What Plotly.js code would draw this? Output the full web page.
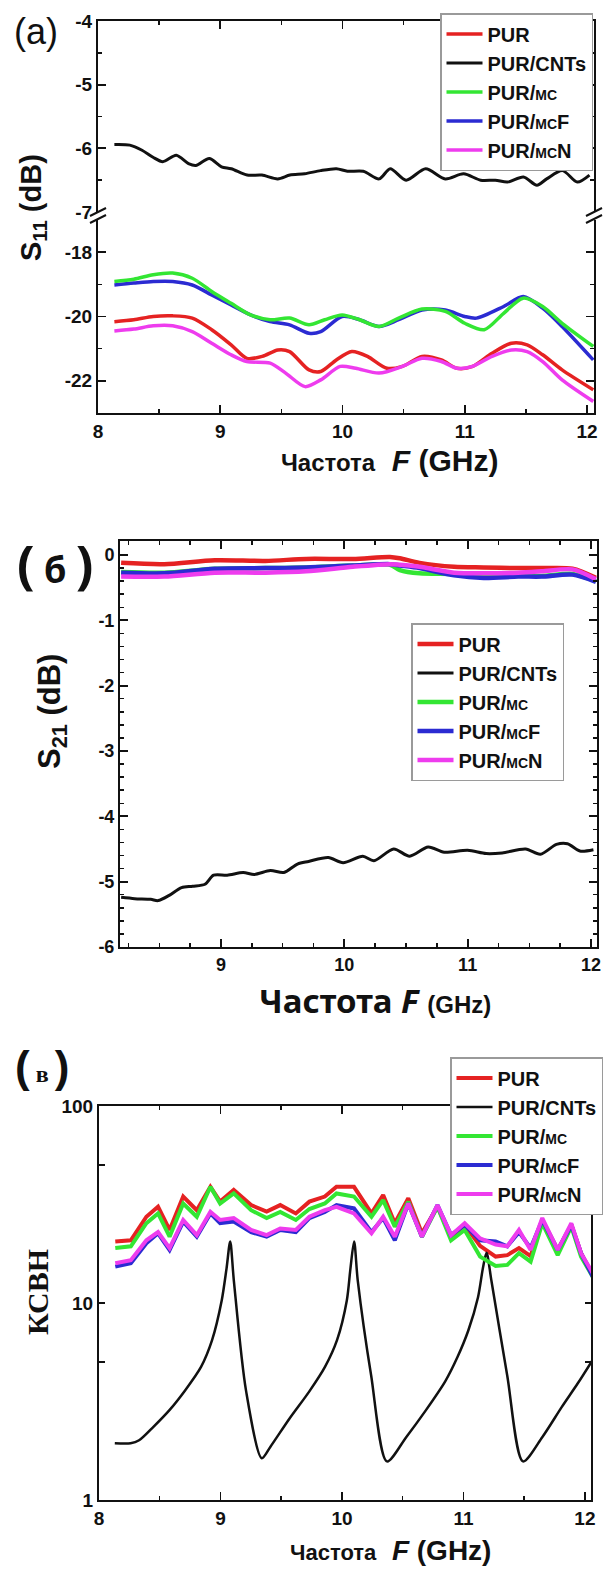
<!DOCTYPE html>
<html><head><meta charset="utf-8">
<script src="https://cdn.plot.ly/plotly-3.0.1.min.js"></script>
<style>html,body{margin:0;padding:0;background:#fff}#chart{width:605px;height:1572px}</style>
</head><body><div id="chart"></div>
<script>
// ---------- series names & colours ----------
const seriesNames = ['PUR', 'PUR/CNTs', 'PUR/<span style="font-size:14px">MC</span>', 'PUR/<span style="font-size:14px">MC</span>F', 'PUR/<span style="font-size:14px">MC</span>N'];
const seriesColors = ['#e52222', '#111111', '#33e633', '#2b2bd2', '#ee3cee'];

// ---------- panel (a): S11 ----------
const a_cnt_x = [8.134,8.26,8.36,8.45,8.53,8.64,8.74,8.80,8.91,9.01,9.09,9.22,9.34,9.47,9.57,9.69,9.82,9.95,10.04,10.17,10.30,10.39,10.52,10.68,10.84,10.99,11.13,11.25,11.35,11.48,11.59,11.67,11.80,11.92,12.02];
const a_cnt_y = [-5.94,-5.95,-6.03,-6.14,-6.21,-6.11,-6.24,-6.27,-6.16,-6.29,-6.32,-6.42,-6.42,-6.48,-6.42,-6.40,-6.35,-6.32,-6.36,-6.36,-6.48,-6.32,-6.50,-6.32,-6.48,-6.40,-6.50,-6.50,-6.53,-6.45,-6.58,-6.48,-6.35,-6.53,-6.42];
const a_mc_x  = [8.134,8.293,8.452,8.611,8.771,8.930,9.089,9.248,9.408,9.567,9.726,9.854,9.997,10.140,10.299,10.459,10.650,10.841,11.0,11.159,11.318,11.478,11.637,11.796,12.051];
const a_mc_y  = [-18.91,-18.84,-18.70,-18.65,-18.81,-19.22,-19.59,-19.95,-20.10,-20.05,-20.26,-20.10,-19.95,-20.10,-20.31,-20.05,-19.77,-19.84,-20.21,-20.41,-19.90,-19.43,-19.69,-20.21,-20.93];
const a_mcf_x = [8.134,8.293,8.452,8.611,8.771,8.930,9.089,9.248,9.408,9.567,9.726,9.822,9.997,10.140,10.299,10.459,10.650,10.841,11.0,11.096,11.318,11.478,11.637,11.796,12.051];
const a_mcf_y = [-19.02,-18.96,-18.91,-18.91,-19.02,-19.33,-19.64,-19.95,-20.16,-20.26,-20.52,-20.47,-20.00,-20.10,-20.31,-20.10,-19.80,-19.80,-20.00,-20.05,-19.69,-19.38,-19.74,-20.31,-21.35];
const a_pur_x = [8.134,8.293,8.452,8.611,8.771,8.930,9.089,9.217,9.344,9.471,9.567,9.726,9.822,9.949,10.076,10.204,10.363,10.490,10.650,10.809,10.936,11.064,11.223,11.382,11.510,11.637,11.796,12.051];
const a_pur_y = [-20.16,-20.10,-20.00,-19.98,-20.05,-20.41,-20.88,-21.30,-21.24,-21.04,-21.09,-21.66,-21.71,-21.35,-21.09,-21.24,-21.61,-21.55,-21.24,-21.35,-21.61,-21.55,-21.14,-20.83,-20.88,-21.19,-21.66,-22.28];
const a_mcn_x = [8.134,8.293,8.452,8.611,8.771,8.930,9.089,9.217,9.408,9.535,9.694,9.822,9.981,10.108,10.299,10.490,10.650,10.809,10.936,11.064,11.223,11.382,11.510,11.637,11.796,12.051];
const a_mcn_y = [-20.45,-20.39,-20.29,-20.29,-20.47,-20.83,-21.19,-21.40,-21.45,-21.76,-22.18,-21.97,-21.55,-21.61,-21.76,-21.55,-21.30,-21.40,-21.61,-21.55,-21.24,-21.04,-21.09,-21.40,-21.97,-22.64];
const a_xticks = [8, 9, 10, 11, 12];
const a_upper_ticks = [-4, -5, -6, -7];
const a_upper_labels = ['-4', '-5', '-6', '-7'];
const a_lower_ticks = [-18, -20, -22];
const a_lower_labels = ['-18', '-20', '-22'];

// ---------- panel (б): S21 ----------
const b_x     = [8.19,8.54,8.95,9.36,9.69,10.07,10.37,10.45,10.61,10.89,11.13,11.41,11.6,11.85,12.04];
const b_pur   = [-0.12,-0.14,-0.08,-0.09,-0.06,-0.06,-0.03,-0.05,-0.12,-0.18,-0.19,-0.20,-0.20,-0.21,-0.35];
const b_mc    = [-0.26,-0.27,-0.21,-0.20,-0.19,-0.16,-0.15,-0.23,-0.28,-0.29,-0.32,-0.31,-0.32,-0.29,-0.40];
const b_mcf   = [-0.27,-0.28,-0.21,-0.20,-0.19,-0.16,-0.14,-0.16,-0.20,-0.31,-0.35,-0.33,-0.33,-0.30,-0.41];
const b_mcn   = [-0.33,-0.33,-0.27,-0.27,-0.25,-0.18,-0.14,-0.15,-0.18,-0.27,-0.28,-0.27,-0.25,-0.22,-0.37];
const b_cnt_x = [8.19,8.30,8.43,8.49,8.58,8.68,8.77,8.87,8.94,9.05,9.18,9.27,9.40,9.51,9.62,9.71,9.87,9.99,10.15,10.24,10.40,10.53,10.68,10.81,11.00,11.15,11.28,11.47,11.59,11.72,11.81,11.91,12.02];
const b_cnt_y = [-5.24,-5.26,-5.27,-5.29,-5.21,-5.09,-5.07,-5.04,-4.90,-4.90,-4.86,-4.89,-4.83,-4.86,-4.73,-4.69,-4.63,-4.71,-4.61,-4.68,-4.50,-4.61,-4.47,-4.55,-4.52,-4.57,-4.56,-4.50,-4.58,-4.43,-4.42,-4.53,-4.51];
const b_xticks = [9, 10, 11, 12];
const b_yticks = [0, -1, -2, -3, -4, -5, -6];
const b_ylabels = ['0', '-1', '-2', '-3', '-4', '-5', '-6'];

// ---------- panel (в): VSWR (КСВН) ----------
const c_x   = [8.134,8.262,8.390,8.486,8.581,8.693,8.805,8.917,8.997,9.109,9.252,9.380,9.492,9.620,9.732,9.859,9.955,10.099,10.243,10.339,10.435,10.546,10.658,10.786,10.898,11.010,11.137,11.265,11.361,11.457,11.553,11.649,11.776,11.888,11.968,12.064];
const c_pur = [20.5,20.8,27.4,30.8,23.5,34.7,29.6,38.9,32.7,37.5,31.4,29.1,31.4,28.5,32.7,34.7,38.9,38.9,28.5,35.3,25.4,34,22.6,30.8,21.7,24.9,19.5,17.2,17.5,19,17.3,26.4,18.6,24.9,17.9,13.9];
const c_mc  = [19,19.4,25.4,28.5,21.7,32,27.4,38.9,32,36,29.6,27,29,26.4,30,32,36,34.7,27.4,33.3,24.4,32.7,21.7,30.8,20.8,23.5,17.2,15.4,15.6,17.9,16.2,25.4,17.5,24.4,17.2,13.6];
const c_mcf = [15.3,15.9,20.1,22.6,18.6,25.9,21.7,28.5,25.4,25.9,22.9,21.7,23.5,22.9,27,29,31.4,30.2,22.9,27,20.8,32,21.7,31.4,22.1,24.9,20.8,20.5,19.4,22.9,19,26.4,18.6,24.9,17.9,13.6];
const c_mcn = [15.9,16.5,20.8,22.9,19,26.4,22.1,29,26.4,27,23.5,22.1,23.9,23.5,27.4,29.6,30.8,28.5,22.6,27.4,21.7,32,21.7,31.4,22.1,25.4,21.3,19.8,19.4,23.5,18.6,27,18.6,25.4,17.9,14.2];
const c_cnt_x = [8.13,8.26,8.33,8.45,8.58,8.71,8.84,8.93,9.01,9.05,9.08,9.11,9.21,9.34,9.41,9.57,9.73,9.86,9.96,10.04,10.07,10.10,10.13,10.24,10.37,10.53,10.69,10.85,10.95,11.04,11.12,11.16,11.19,11.23,11.36,11.49,11.65,11.81,11.94,12.06];
const c_cnt_y = [1.94,1.94,2.01,2.36,2.86,3.61,4.74,6.46,10.3,15,20.5,13,3.6,1.63,1.86,2.6,3.55,4.74,6.5,10.3,15,20.5,13,4.3,1.57,2.09,2.85,4.0,5.3,7.25,10.7,15,18,13,4.3,1.57,2.09,2.97,3.9,5.1];
const c_xticks = [8, 9, 10, 11, 12];
const c_yticks = [1, 10, 100];
const c_ylabels = ['1', '10', '100'];
const c_yminor = [5, 50];

// ---------- helpers ----------
const W = 605, H = 1572;
const px = v => v / W;
const py = v => 1 - v / H;
const FONT = 'Liberation Sans, Arial, sans-serif';

function line(x, y, idx, xa, ya, legend, width, shape) {
  return {
    type: 'scatter', mode: 'lines', x: x, y: y, name: seriesNames[idx],
    xaxis: xa, yaxis: ya, legend: legend,
    line: {color: seriesColors[idx], width: width, shape: shape || 'spline', smoothing: 0.8},
    hoverinfo: 'skip'
  };
}

const traces = [
  // panel (a)
  line(a_pur_x, a_pur_y, 0, 'x', 'y2', 'legend', 3.5),
  line(a_cnt_x, a_cnt_y, 1, 'x2', 'y', 'legend', 3),
  line(a_mcf_x, a_mcf_y, 3, 'x', 'y2', 'legend', 3.5),
  line(a_mc_x, a_mc_y, 2, 'x', 'y2', 'legend', 3.5),
  line(a_mcn_x, a_mcn_y, 4, 'x', 'y2', 'legend', 3.5),
  // panel (б)
  line(b_x, b_pur, 0, 'x3', 'y3', 'legend2', 4.5),
  line(b_cnt_x, b_cnt_y, 1, 'x3', 'y3', 'legend2', 3),
  line(b_x, b_mc, 2, 'x3', 'y3', 'legend2', 4.5),
  line(b_x, b_mcf, 3, 'x3', 'y3', 'legend2', 4.5),
  line(b_x, b_mcn, 4, 'x3', 'y3', 'legend2', 4.5),
  // panel (в)
  line(c_x, c_pur, 0, 'x4', 'y4', 'legend3', 4, 'linear'),
  line(c_cnt_x, c_cnt_y, 1, 'x4', 'y4', 'legend3', 2.5, 'spline'),
  line(c_x, c_mc, 2, 'x4', 'y4', 'legend3', 4, 'linear'),
  line(c_x, c_mcf, 3, 'x4', 'y4', 'legend3', 4, 'linear'),
  line(c_x, c_mcn, 4, 'x4', 'y4', 'legend3', 4, 'linear')
];
traces.forEach(t => { t.legendrank = seriesNames.indexOf(t.name) + 1; });

const tickfont = {family: FONT, size: 19, color: '#111', weight: 'bold'};
const minorTick = (dtick, tick0) => ({dtick: dtick, tick0: tick0, ticklen: 4, ticks: 'inside', tickcolor: '#111', tickwidth: 1.5});
function ax(extra) {
  return Object.assign({
    showline: true, linecolor: '#111', linewidth: 2, ticks: 'inside', ticklen: 8, tickwidth: 1.8,
    tickcolor: '#111', showgrid: false, zeroline: false, tickfont: tickfont, fixedrange: true
  }, extra);
}
function legendBox(x, y) {
  return {x: x, y: y, xanchor: 'left', yanchor: 'top', bgcolor: '#ffffff', bordercolor: '#9a9a9a', borderwidth: 1.5,
    font: {family: FONT, size: 20, color: '#111', weight: 'bold'}, itemwidth: 36, tracegroupgap: 0,
    traceorder: 'normal'};
}

const layout = {
  width: W, height: H, margin: {l: 0, r: 0, t: 0, b: 0}, paper_bgcolor: '#fff', plot_bgcolor: 'rgba(0,0,0,0)',
  showlegend: true,
  // panel (a)
  xaxis: ax({domain: [px(98), px(594)], range: [8, 12.057], anchor: 'y2', tickvals: a_xticks, ticktext: a_xticks.map(String),
    minor: minorTick(0.5, 8)}),
  xaxis2: ax({domain: [px(98), px(594)], range: [8, 12.057], anchor: 'y', side: 'top', showticklabels: false, tickvals: a_xticks,
    minor: minorTick(0.5, 8)}),
  yaxis: ax({domain: [py(212), py(21)], range: [-7, -4], anchor: 'x2', mirror: 'ticks', tickvals: a_upper_ticks, ticktext: a_upper_labels,
    minor: minorTick(0.5, -7)}),
  yaxis2: ax({domain: [py(413), py(220)], range: [-23, -17], anchor: 'x', mirror: 'ticks', tickvals: a_lower_ticks, ticktext: a_lower_labels,
    minor: minorTick(1, -23)}),
  // panel (б)
  xaxis3: ax({domain: [px(120), px(597)], range: [8.181, 12.049], anchor: 'y3', mirror: 'ticks', tickvals: b_xticks, ticktext: b_xticks.map(String),
    tickfont: Object.assign({}, tickfont, {size: 18}), minor: minorTick(0.25, 8)}),
  yaxis3: ax({domain: [py(947), py(541)], range: [-6, 0.2145], anchor: 'x3', mirror: 'ticks', tickvals: b_yticks, ticktext: b_ylabels,
    tickfont: Object.assign({}, tickfont, {size: 18}), minor: minorTick(0.2, -6)}),
  // panel (в)
  xaxis4: ax({domain: [px(99), px(591)], range: [8, 12.05], anchor: 'y4', mirror: 'ticks', tickvals: c_xticks, ticktext: c_xticks.map(String),
    minor: minorTick(0.5, 8)}),
  yaxis4: ax({domain: [py(1500), py(1106)], type: 'log', range: [0, 2], anchor: 'x4', mirror: 'ticks', tickvals: c_yticks, ticktext: c_ylabels, ticklen: 6,
    minor: {tickmode: 'array', tickvals: c_yminor, ticklen: 6, ticks: 'inside', tickcolor: '#111', tickwidth: 1.8}}),
  legend: legendBox(px(440), py(13)),
  legend2: legendBox(px(411), py(623)),
  legend3: legendBox(px(450), py(1057)),
  shapes: [],
  annotations: []
};

// axis-break marks on panel (a)
[98, 594].forEach(xc => {
  [212, 219].forEach(yc => {
    layout.shapes.push({type: 'line', xref: 'paper', yref: 'paper', x0: px(xc - 8), y0: py(yc + 4), x1: px(xc + 8), y1: py(yc - 4),
      line: {color: '#111', width: 2}});
  });
});

function ann(xp, yp, text, opts) {
  layout.annotations.push(Object.assign({xref: 'paper', yref: 'paper', x: px(xp), y: py(yp), text: text, showarrow: false,
    xanchor: 'center', yanchor: 'middle', font: {family: FONT, size: 20, color: '#111'}}, opts || {}));
}
// panel labels
ann(36, 32, '(a)', {font: {family: FONT, size: 36, color: '#111'}});
ann(55, 563, '<span style="font-size:52px">(</span> б <span style="font-size:52px">)</span>', {font: {family: 'Noto Sans, sans-serif', size: 36, color: '#111', weight: 'bold'}});
ann(42, 1066, '<span style="font-size:44px;font-family:Liberation Sans">(</span> в <span style="font-size:44px;font-family:Liberation Sans">)</span>', {font: {family: 'Liberation Serif, serif', size: 24, color: '#111', weight: 'bold'}});
// y titles
ann(33, 208, '<b>S<sub>11</sub> (dB)</b>', {textangle: -90, font: {family: FONT, size: 29, color: '#111'}});
ann(52, 712, '<b>S<sub>21</sub> (dB)</b>', {textangle: -90, font: {family: FONT, size: 31, color: '#111'}});
ann(37, 1292, '<b>КСВН</b>', {textangle: -90, font: {family: 'Liberation Serif, serif', size: 30, color: '#111'}});
// x titles
ann(390, 460, '<span style="font-size:24px"><b>Частота</b></span>  <b><i>F</i> (GHz)</b>', {font: {family: FONT, size: 30, color: '#111'}});
ann(375, 1000, '<b>Частота <i>F</i></b> <span style="font-size:24px;font-family:Liberation Sans"><b>(GHz)</b></span>', {font: {family: 'Noto Sans, sans-serif', size: 33, color: '#111'}});
ann(390, 1550, '<span style="font-size:22px"><b>Частота</b></span>  <b><i>F</i> (GHz)</b>', {font: {family: FONT, size: 28, color: '#111'}});

Plotly.newPlot('chart', traces, layout, {displayModeBar: false, staticPlot: true});
</script></body></html>
